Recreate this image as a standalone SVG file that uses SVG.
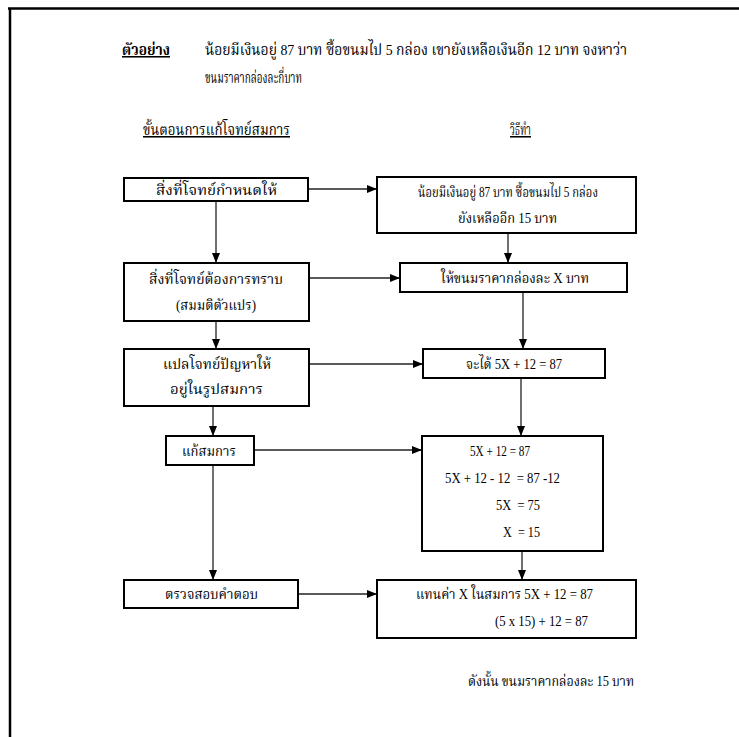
<svg xmlns="http://www.w3.org/2000/svg" width="739" height="737" viewBox="0 0 739 737">
<defs>
<style>
.t{font-family:"Liberation Serif","Noto Serif Thai","Noto Sans Thai","DejaVu Serif",serif;font-size:14.5px;fill:#000}
.h{font-size:15.5px}
.u{text-decoration:underline}
.b{font-weight:bold}
.box{fill:#fff;stroke:#000;stroke-width:2}
.ln{stroke:#222;stroke-width:1.3;fill:none;marker-end:url(#ah)}
</style>
<marker id="ah" markerWidth="10" markerHeight="8" refX="10" refY="4" orient="auto" markerUnits="userSpaceOnUse">
<path d="M0,0 L10,4 L0,8 Z" fill="#000"/>
</marker>
</defs>
<rect width="739" height="737" fill="#fff"/>
<g id="frame">
<line x1="8" y1="8.5" x2="739" y2="8.5" stroke="#000" stroke-width="2.5"/>
<line x1="10" y1="8" x2="10" y2="737" stroke="#000" stroke-width="2.5"/>
</g>
<g id="header">
<text class="t h u b" x="122" y="55" textLength="48" lengthAdjust="spacingAndGlyphs">ตัวอย่าง</text>
<text class="t h" x="205" y="55" textLength="422" lengthAdjust="spacingAndGlyphs">น้อยมีเงินอยู่ 87 บาท ซื้อขนมไป 5 กล่อง เขายังเหลือเงินอีก 12 บาท จงหาว่า</text>
<text class="t h" x="205" y="83" textLength="97" lengthAdjust="spacingAndGlyphs">ขนมราคากล่องละกี่บาท</text>
<text class="t h u" x="143" y="135" textLength="147" lengthAdjust="spacingAndGlyphs">ขั้นตอนการแก้โจทย์สมการ</text>
<text class="t h u" x="510" y="135" textLength="21" lengthAdjust="spacingAndGlyphs">วิธีทำ</text>
</g>
<g id="connectors">
<line class="ln" x1="216" y1="201" x2="216" y2="263"/>
<line class="ln" x1="216" y1="321" x2="216" y2="349"/>
<line class="ln" x1="213" y1="406" x2="213" y2="436"/>
<line class="ln" x1="213" y1="465" x2="213" y2="580"/>
<line class="ln" x1="508" y1="233" x2="508" y2="263"/>
<line class="ln" x1="523" y1="292" x2="523" y2="349"/>
<line class="ln" x1="521" y1="378" x2="521" y2="436"/>
<line class="ln" x1="522" y1="551" x2="522" y2="580"/>
<line class="ln" x1="308" y1="189" x2="377" y2="189"/>
<line class="ln" x1="309" y1="278" x2="400" y2="278"/>
<line class="ln" x1="309" y1="364" x2="423" y2="364"/>
<line class="ln" x1="254" y1="450" x2="422" y2="450"/>
<line class="ln" x1="298" y1="594" x2="377" y2="594"/>
</g>
<g id="n1">
<rect class="box" x="124" y="178" width="184" height="23"/>
<text class="t" x="156" y="195" textLength="121" lengthAdjust="spacingAndGlyphs">สิ่งที่โจทย์กำหนดให้</text>
</g>
<g id="n2">
<rect class="box" x="124" y="263" width="185" height="58"/>
<text class="t" x="149" y="284" textLength="134" lengthAdjust="spacingAndGlyphs">สิ่งที่โจทย์ต้องการทราบ</text>
<text class="t" x="176" y="310" textLength="80" lengthAdjust="spacingAndGlyphs">(สมมติตัวแปร)</text>
</g>
<g id="n3">
<rect class="box" x="124" y="349" width="185" height="57"/>
<text class="t" x="163" y="369" textLength="108" lengthAdjust="spacingAndGlyphs">แปลโจทย์ปัญหาให้</text>
<text class="t" x="170" y="394" textLength="93" lengthAdjust="spacingAndGlyphs">อยู่ในรูปสมการ</text>
</g>
<g id="n4">
<rect class="box" x="166" y="436" width="88" height="29"/>
<text class="t" x="182" y="456" textLength="54" lengthAdjust="spacingAndGlyphs">แก้สมการ</text>
</g>
<g id="n5">
<rect class="box" x="124" y="580" width="174" height="28"/>
<text class="t" x="165" y="599" textLength="93" lengthAdjust="spacingAndGlyphs">ตรวจสอบคำตอบ</text>
</g>
<g id="r1">
<rect class="box" x="377" y="177" width="259" height="56"/>
<text class="t" x="418" y="197" textLength="180" lengthAdjust="spacingAndGlyphs">น้อยมีเงินอยู่ 87 บาท ซื้อขนมไป 5 กล่อง</text>
<text class="t" x="458" y="223" textLength="99" lengthAdjust="spacingAndGlyphs">ยังเหลืออีก 15 บาท</text>
</g>
<g id="r2">
<rect class="box" x="400" y="263" width="227" height="29"/>
<text class="t" x="441" y="283" textLength="148" lengthAdjust="spacingAndGlyphs">ให้ขนมราคากล่องละ X บาท</text>
</g>
<g id="r3">
<rect class="box" x="423" y="349" width="182" height="29"/>
<text class="t" x="466" y="369" textLength="96" lengthAdjust="spacingAndGlyphs">จะได้ 5X + 12 = 87</text>
</g>
<g id="r4">
<rect class="box" x="422" y="436" width="181" height="115"/>
<text class="t" x="470" y="456" textLength="60" lengthAdjust="spacingAndGlyphs">5X + 12 = 87</text>
<text class="t" x="445" y="483" textLength="115" lengthAdjust="spacingAndGlyphs" xml:space="preserve">5X + 12 - 12  = 87 -12</text>
<text class="t" x="496" y="510" textLength="44" lengthAdjust="spacingAndGlyphs" xml:space="preserve">5X  = 75</text>
<text class="t" x="503" y="537" textLength="37" lengthAdjust="spacingAndGlyphs" xml:space="preserve">X  = 15</text>
</g>
<g id="r5">
<rect class="box" x="377" y="580" width="259" height="58"/>
<text class="t" x="416" y="599" textLength="177" lengthAdjust="spacingAndGlyphs">แทนค่า X ในสมการ 5X + 12 = 87</text>
<text class="t" x="495" y="626" textLength="93" lengthAdjust="spacingAndGlyphs">(5 x 15) + 12 = 87</text>
</g>
<g id="footer">
<text class="t" x="468" y="686" textLength="166" lengthAdjust="spacingAndGlyphs">ดังนั้น ขนมราคากล่องละ 15 บาท</text>
</g>
</svg>
